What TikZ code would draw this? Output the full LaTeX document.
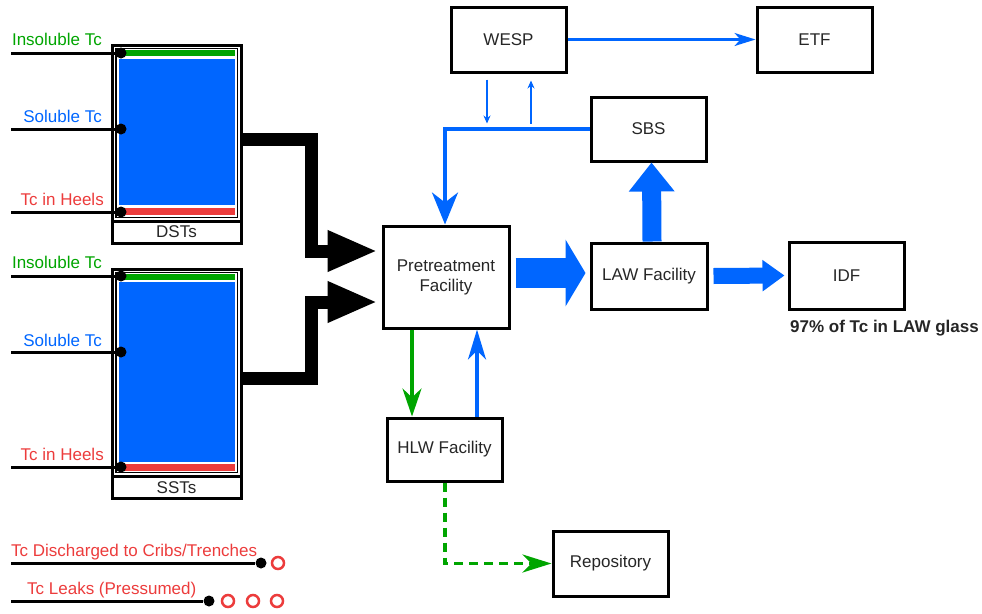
\documentclass[tikz,border=0pt]{standalone}
\usepackage{fontspec}
\setmainfont{Liberation Sans}
\usetikzlibrary{arrows.meta,positioning}
\definecolor{tcblue}{RGB}{0,102,255}
\definecolor{tcgreen}{RGB}{0,165,0}
\definecolor{tcred}{RGB}{236,60,60}
\definecolor{txtgray}{RGB}{38,38,38}

\begin{document}
\begin{tikzpicture}[x=1pt,y=-1pt,
    every node/.style={font=\fontsize{17}{20}\selectfont, text=txtgray, inner sep=0pt},
    box/.style={draw=black, line width=3pt, align=center, minimum width=115pt, minimum height=65pt},
    tank/.style={draw=black, line width=3pt, minimum width=129pt},
    dot/.style={circle, fill=black, minimum size=11pt},
    leak/.style={circle, draw=tcred, line width=2.5pt, minimum size=12pt},
    tline/.style={line width=3pt},
    blk/.style={line width=13pt, line join=miter, -{Triangle[length=50pt,width=38pt]}},
    thinblue/.style={tcblue, line width=2.5pt},
    bigstealth/.style={-{Stealth[length=32pt,width=26pt,inset=10pt]}}
  ]
  \useasboundingbox (0,0) rectangle (982,613);

  % tanks
  \node[tank, minimum height=198pt] (dst) at (176.5,144) {};
  \draw[line width=1.3pt] (116,48.5) rectangle (237.5,217.5);
  \draw[tline] (112,221) -- (241,221);
  \fill[tcgreen] (120,49.5) rectangle (235,55.5);
  \fill[tcblue] (119,59) rectangle (235,205);
  \fill[tcred] (120,208) rectangle (235,215);
  \node (dstlbl) at (176.5,232) {DSTs};

  \node[tank, minimum height=229pt] (sst) at (176.5,383.5) {};
  \draw[line width=1.3pt] (116,272.5) rectangle (237.5,472.5);
  \draw[tline] (112,476) -- (241,476);
  \fill[tcgreen] (120,273.5) rectangle (235,279.5);
  \fill[tcblue] (119,282) rectangle (235,462);
  \fill[tcred] (120,464) rectangle (235,471);
  \node (sstlbl) at (176.5,487.5) {SSTs};

  % tank labels
  \node[dot] (dstins) at (121,53) {};
  \node[dot] (dstsol) at (121,129) {};
  \node[dot] (dsthee) at (121,212) {};
  \node[dot] (sstins) at (121,276) {};
  \node[dot] (sstsol) at (121,352) {};
  \node[dot] (ssthee) at (121,467) {};
  \draw[tline] (11,53) -- (dstins);
  \draw[tline] (11,129) -- (dstsol);
  \draw[tline] (11,212) -- (dsthee);
  \draw[tline] (11,276) -- (sstins);
  \draw[tline] (11,352) -- (sstsol);
  \draw[tline] (11,467) -- (ssthee);
  \node[anchor=base east, text=tcgreen] at (102,45) {Insoluble Tc};
  \node[anchor=base east, text=tcblue] at (102,122) {Soluble Tc};
  \node[anchor=base east, text=tcred] at (104,205) {Tc in Heels};
  \node[anchor=base east, text=tcgreen] at (102,268) {Insoluble Tc};
  \node[anchor=base east, text=tcblue] at (102,346) {Soluble Tc};
  \node[anchor=base east, text=tcred] at (104,460) {Tc in Heels};

  % facilities
  \node[box] (wesp) at (508.5,39.5) {WESP};
  \node[box] (etf) at (814.5,39.5) {ETF};
  \node[box, minimum height=64pt] (sbs) at (648.5,129) {SBS};
  \node[box, minimum width=126pt, minimum height=102pt] (pre) at (446,277) {Pretreatment\\Facility};
  \node[box, minimum width=116pt, minimum height=66pt] (law) at (649,276) {LAW Facility};
  \node[box, minimum height=67pt] (idf) at (846.5,275.5) {IDF};
  \node[box, minimum height=63pt] (hlw) at (444.5,449.5) {HLW Facility};
  \node[box] (repo) at (610.5,563.5) {Repository};
  \node[anchor=base west, font=\fontsize{17}{20}\selectfont\bfseries] (glass) at (790,332) {97\% of Tc in LAW glass};

  % flows
  \draw[blk] ([yshift=5pt]dst.east) -- ++(69,0) |- ([shift={(-4pt,26pt)}]pre.west);
  \draw[blk] ([yshift=5.5pt]sst.east) -- ++(69,0) |- ([shift={(-4pt,-25pt)}]pre.west);
  \draw[tcblue, line width=30pt, -{Triangle[length=20pt,width=66pt]}] ([shift={(5pt,4pt)}]pre.east) -- ([shift={(-4pt,3pt)}]law.west);
  \draw[tcblue, line width=16pt, -{Triangle[length=22pt,width=30pt]}] ([xshift=5pt]law.east) -- ([xshift=-3pt]idf.west);
  \draw[tcblue, line width=19pt, -{Triangle[length=29pt,width=44pt]}] ([xshift=3pt]law.north) -- ([xshift=3pt]sbs.south);
  \draw[thinblue, -{Stealth[length=21pt,width=13pt,inset=6pt]}] (wesp) -- (etf);
  \draw[thinblue, -{Stealth[length=8pt,width=7pt]}] ([shift={(-21.5pt,-6pt)}]wesp.south) -- ++(0,44);
  \draw[thinblue, -{Stealth[length=8pt,width=7pt]}] ([shift={(22.5pt,-50pt)}]wesp.south) -- ++(0,-43);
  \draw[tcblue, line width=3.5pt, bigstealth] (sbs.west) -| ([xshift=-1pt]pre.north);
  \draw[tcgreen, line width=3.5pt, -{Stealth[length=28pt,width=19pt,inset=9pt]}] ([xshift=-34pt]pre.south) -- ([xshift=-32.5pt]hlw.north);
  \draw[tcblue, line width=3.5pt, -{Stealth[length=30pt,width=18pt,inset=9pt]}] ([xshift=32.5pt]hlw.north) -- ([xshift=31pt]pre.south);
  \draw[tcgreen, line width=3.5pt, dash pattern=on 9pt off 6pt, -{Stealth[length=29pt,width=18pt,inset=9pt]}] ([xshift=0.5pt]hlw.south) |- (repo.west);

  % legend
  \node[anchor=base west, text=tcred] at (11,556) {Tc Discharged to Cribs/Trenches};
  \node[dot] (crib) at (261,563) {};
  \node[leak] (crib1) at (278,563) {};
  \draw[tline] (11,563) -- (crib);
  \node[anchor=base west, text=tcred] at (27,594) {Tc Leaks (Pressumed)};
  \node[dot] (leaks) at (209,601) {};
  \node[leak] (leak1) at (228,601) {};
  \node[leak] (leak2) at (253,601) {};
  \node[leak] (leak3) at (277,601) {};
  \draw[tline] (11,601) -- (leaks);
\end{tikzpicture}
\end{document}
